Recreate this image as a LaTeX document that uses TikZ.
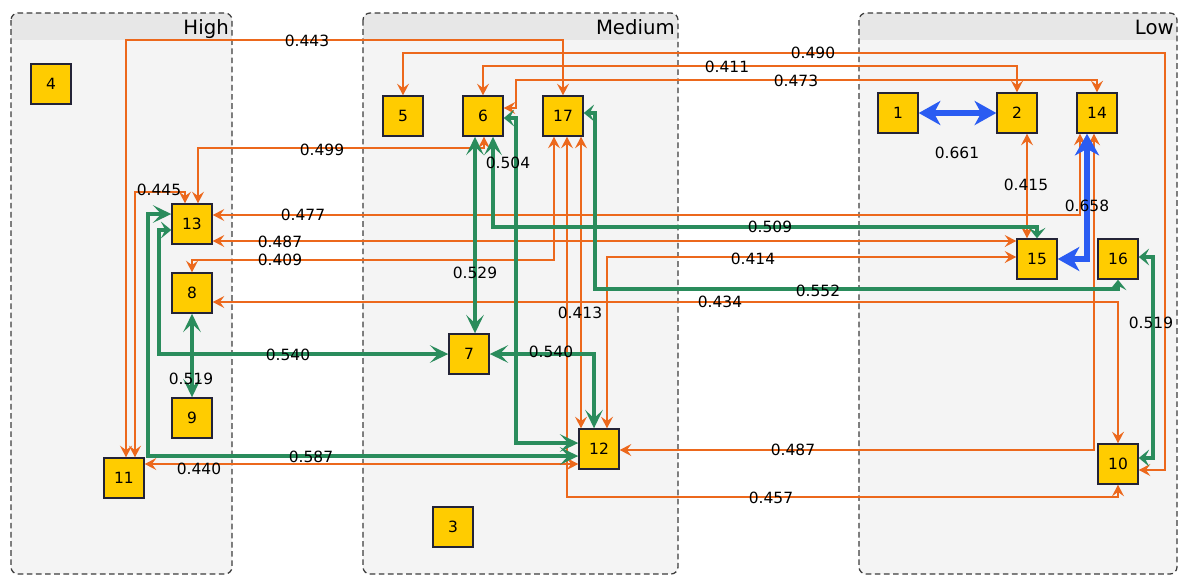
\documentclass[tikz,border=0pt]{standalone}
\usepackage{fontspec}
\setmainfont{DejaVu Sans}
\usetikzlibrary{arrows.meta,calc}

\definecolor{boxfill}{RGB}{255,204,0}
\definecolor{boxline}{RGB}{35,35,55}
\definecolor{orangelink}{RGB}{236,104,28}
\definecolor{greenlink}{RGB}{42,140,92}
\definecolor{bluelink}{RGB}{42,92,242}
\definecolor{lanebg}{RGB}{244,244,244}
\definecolor{lanehead}{RGB}{231,231,231}
\definecolor{laneline}{RGB}{60,60,60}

\begin{document}
\begin{tikzpicture}[
  x=0.025cm, y=-0.025cm,
  var/.style={draw=boxline, line width=1pt, fill=boxfill, minimum size=1cm, inner sep=0pt, font=\fontsize{11}{12}\selectfont},
  lbl/.style={inner sep=0pt, font=\fontsize{11}{12}\selectfont},
  otip/.tip={Stealth[length=2.9mm,width=3mm,inset=1.1mm]},
  gtip/.tip={Stealth[length=4.6mm,width=4.4mm,inset=2.1mm]},
  gshort/.tip={Stealth[length=2.6mm,width=4.2mm,inset=1.1mm]},
  btip/.tip={Stealth[length=5.4mm,width=6mm,inset=1.6mm]},
  olink/.style={draw=orangelink, line width=1.1pt, otip-otip},
  glink/.style={draw=greenlink, line width=2.6pt, gtip-gtip},
  blink/.style={draw=bluelink, line width=4.4pt, btip-btip}
]
\useasboundingbox (0,0) rectangle (1182,575);

% lanes
\foreach \lx/\rx/\ttl in {11/232/High, 363/678/Medium, 859/1177/Low}{
  \begin{scope}
    \clip[rounded corners=5] (\lx,13) rectangle (\rx,574);
    \fill[lanebg] (\lx,13) rectangle (\rx,574);
    \fill[lanehead] (\lx,13) rectangle (\rx,40);
  \end{scope}
  \draw[laneline, line width=0.9pt, dash pattern=on 4pt off 2.5pt, rounded corners=5] (\lx,13) rectangle (\rx,574);
  \node[anchor=base east, inner sep=0pt, font=\fontsize{14}{16}\selectfont] (t\ttl) at (\rx-3,34) {\ttl};
}

% variables
\node[var] (n1) at (898,113) {1};
\node[var] (n2) at (1017,113) {2};
\node[var] (n3) at (453,527) {3};
\node[var] (n4) at (51,84) {4};
\node[var] (n5) at (403,116) {5};
\node[var] (n6) at (483,116) {6};
\node[var] (n7) at (469,354) {7};
\node[var] (n8) at (192,293) {8};
\node[var] (n9) at (192,418) {9};
\node[var] (n10) at (1118,464) {10};
\node[var] (n11) at (124,478) {11};
\node[var] (n12) at (599,449) {12};
\node[var] (n13) at (192,224) {13};
\node[var] (n14) at (1097,113) {14};
\node[var] (n15) at (1037,259) {15};
\node[var] (n16) at (1118,259) {16};
\node[var] (n17) at (563,116) {17};

% orange links
\draw[olink] ($(n11.north)+(2,0)$) |- (563,40) -- (n17.north);
\draw[olink] ($(n11.north)+(11,0)$) |- (185,192) -- ($(n13.north)+(-7,0)$);
\draw[olink] ($(n13.north)+(6,0)$) |- (484,148) -- ($(n6.south)+(1,0)$);
\draw[olink] (n5.north) |- (1165,53) |- ($(n10.east)+(0,6)$);
\draw[olink] (n6.north) |- (1017,66) -- (n2.north);
\draw[olink] ($(n6.east)+(0,-8)$) -| (516,80) -| (n14.north);
\draw[olink] ($(n13.east)+(0,-9)$) -| ($(n14.south)+(-17,0)$);
\draw[olink] ($(n13.east)+(0,17)$) -- ($(n15.west)+(0,-18)$);
\draw[olink] (n8.north) |- (554,260) -- ($(n17.south)+(-9,0)$);
\draw[olink] ($(n12.north)+(8,0)$) |- ($(n15.west)+(0,-2)$);
\draw[olink] ($(n17.south)+(18,0)$) -- ($(n12.north)+(-18,0)$);
\draw[olink] ($(n17.south)+(4,0)$) |- (1118,497) -- (n10.south);
\draw[olink] ($(n8.east)+(0,9)$) -| (n10.north);
\draw[olink] ($(n11.east)+(0,-14)$) -- ($(n12.west)+(0,15)$);
\draw[olink] ($(n2.south)+(10,0)$) -- ($(n15.north)+(-10,0)$);
\draw[olink] ($(n14.south)+(-3,0)$) |- ($(n12.east)+(0,1)$);

% green links
\draw[glink, gshort-gtip] ($(n6.east)+(0,2)$) -| (516,443) -- ($(n12.west)+(0,-6)$);
\draw[glink, gshort-gshort] ($(n17.east)+(0,-3)$) -| (595,289) -| (n16.south);
\draw[glink] (n7.east) -| ($(n12.north)+(-5,0)$);
\draw[glink] ($(n6.south)+(-8,0)$) -- ($(n7.north)+(6,0)$);
\draw[glink, gtip-gshort] ($(n6.south)+(10,0)$) |- (1037,227) -- (n15.north);
\draw[glink, gshort-gtip] ($(n13.west)+(0,6)$) -| (159,354) -- (n7.west);
\draw[glink] ($(n13.west)+(0,-10)$) -| (148,456) -- ($(n12.west)+(0,7)$);
\draw[glink] (n8.south) -- (n9.north);
\draw[glink, gshort-gshort] ($(n16.east)+(0,-2)$) -| (1153,458) -- ($(n10.east)+(0,-6)$);

% blue links
\draw[blink] (n1.east) -- (n2.west);
\draw[blink] ($(n14.south)+(-10,0)$) |- (n15.east);

% weights
\node[lbl] (l443) at (307,41) {0.443};
\node[lbl] (l490) at (813,53) {0.490};
\node[lbl] (l411) at (727,67) {0.411};
\node[lbl] (l473) at (796,81) {0.473};
\node[lbl] (l499) at (322,150) {0.499};
\node[lbl] (l504) at (508,163) {0.504};
\node[lbl] (l661) at (957,153) {0.661};
\node[lbl] (l445) at (159,190) {0.445};
\node[lbl] (l415) at (1026,185) {0.415};
\node[lbl] (l658) at (1087,206) {0.658};
\node[lbl] (l477) at (303,215) {0.477};
\node[lbl] (l509) at (770,227) {0.509};
\node[lbl] (l487a) at (280,242) {0.487};
\node[lbl] (l409) at (280,260) {0.409};
\node[lbl] (l414) at (753,259) {0.414};
\node[lbl] (l529) at (475,273) {0.529};
\node[lbl] (l552) at (818,291) {0.552};
\node[lbl] (l434) at (720,302) {0.434};
\node[lbl] (l413) at (580,313) {0.413};
\node[lbl] (l519b) at (1151,323) {0.519};
\node[lbl] (l540a) at (288,355) {0.540};
\node[lbl] (l540b) at (551,352) {0.540};
\node[lbl] (l519a) at (191,379) {0.519};
\node[lbl] (l587) at (311,457) {0.587};
\node[lbl] (l440) at (199,469) {0.440};
\node[lbl] (l487b) at (793,450) {0.487};
\node[lbl] (l457) at (771,498) {0.457};
\end{tikzpicture}
\end{document}
